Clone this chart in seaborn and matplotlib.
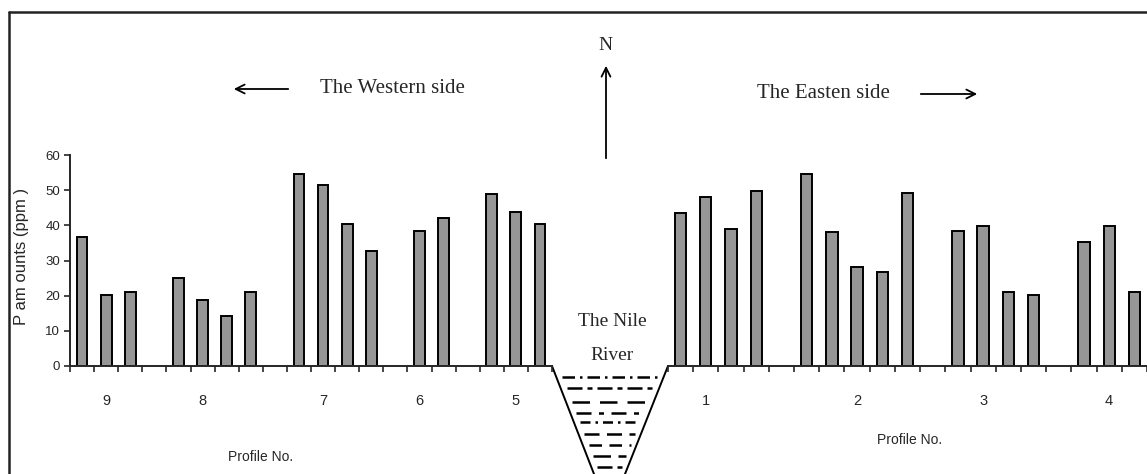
import matplotlib
matplotlib.use("Agg")
import matplotlib.pyplot as plt
import seaborn as sns
import pandas as pd

# P amounts (ppm) per sample, grouped by profile
# Western side (left panel, shown from profile 9 to 5)
profile_9 = [36.7, 20.3, 21.1]
profile_8 = [24.9, 18.8, 14.1, 21.1]
profile_7 = [54.5, 51.5, 40.5, 32.8]
profile_6 = [38.3, 42.2]
profile_5 = [49.0, 43.7, 40.5]
# Eastern side (right panel, shown from profile 1 to 4)
profile_1 = [43.4, 48.1, 38.9, 49.8]
profile_2 = [54.5, 38.2, 28.1, 26.6, 49.2]
profile_3 = [38.3, 39.8, 21.1, 20.3]
profile_4 = [35.2, 39.8, 21.1]

west_names = ["9", "8", "7", "6", "5"]
west_groups = [profile_9, profile_8, profile_7, profile_6, profile_5]
east_names = ["1", "2", "3", "4"]
east_groups = [profile_1, profile_2, profile_3, profile_4]

y_ticks = [0, 10, 20, 30, 40, 50, 60]


def build_side(names, groups):
    """Long table of samples plus a category order with one empty slot between profiles."""
    rows, order, label_cats = [], [], []
    for k, (name, vals) in enumerate(zip(names, groups)):
        cats = [f"{name}-{i + 1}" for i in range(len(vals))]
        rows += [{"sample": c, "value": v} for c, v in zip(cats, vals)]
        order += cats
        label_cats.append(cats[(len(cats) - 1) // 2])
        if k < len(names) - 1:
            order.append(f"gap-{name}")
    return pd.DataFrame(rows), order, label_cats


sns.set_style("ticks")
plt.rcParams["font.family"] = ["Liberation Sans", "DejaVu Sans"]
serif = ["Liberation Serif", "DejaVu Serif"]

fig = plt.figure(figsize=(11.47, 4.74), dpi=100)

# overlay in pixel coordinates for the frame, arrows, labels and the river sketch
ov = fig.add_axes([0, 0, 1, 1])
ov.set_xlim(0, 1147)
ov.set_ylim(474, 0)
ov.axis("off")

W, H = 1147, 474
ax_w = fig.add_axes([70 / W, (H - 366) / H, 482 / W, 211 / H])
ax_e = fig.add_axes([668 / W, (H - 366) / H, 479 / W, 211 / H])

for ax, names, groups in [(ax_w, west_names, west_groups), (ax_e, east_names, east_groups)]:
    df, order, label_cats = build_side(names, groups)
    sns.barplot(data=df, x="sample", y="value", order=order, color="#969696",
                saturation=1, edgecolor="black", linewidth=1.4, width=0.45,
                errorbar=None, ax=ax)
    ax.set_ylim(0, 60)
    ax.set_xlim(-0.5, len(order) - 0.5)
    ax.set_xticks([order.index(c) for c in label_cats])
    ax.set_xticklabels(names, fontsize=10.5)
    ax.set_xticks([i - 0.5 for i in range(len(order) + 1)], minor=True)
    ax.tick_params(axis="x", which="major", length=0, pad=20)
    ax.tick_params(axis="x", which="minor", length=4, width=1.2, direction="out")
    ax.set_xlabel("")
    ax.set_ylabel("")
    ax.patch.set_alpha(0)
    for s in ["top", "right"]:
        ax.spines[s].set_visible(False)
    ax.spines["bottom"].set_linewidth(1.4)

ax_w.set_yticks(y_ticks)
ax_w.tick_params(axis="y", length=4, width=1.2, labelsize=9.5, pad=3)
ax_w.spines["left"].set_linewidth(1.4)
ax_e.spines["left"].set_visible(False)
ax_e.set_yticks([])

# outer frame
ov.plot([9, W], [12, 12], color="#222222", lw=1.8)
ov.plot([9, 9], [12, H], color="#222222", lw=1.8)

# side labels and arrows
ov.text(392, 88, "The Western side", family=serif, fontsize=15, ha="center", va="center")
ov.annotate("", xy=(231, 89), xytext=(291, 89),
            arrowprops=dict(arrowstyle="->", lw=1.3, color="black", mutation_scale=16))
ov.text(823, 93, "The Easten side", family=serif, fontsize=15, ha="center", va="center")
ov.annotate("", xy=(980, 94), xytext=(918, 94),
            arrowprops=dict(arrowstyle="->", lw=1.3, color="black", mutation_scale=16))
ov.text(605, 45, "N", family=serif, fontsize=14, ha="center", va="center")
ov.annotate("", xy=(606, 63), xytext=(606, 161),
            arrowprops=dict(arrowstyle="->", lw=1.3, color="black", mutation_scale=16))

# the Nile river sketch
ov.text(612, 321, "The Nile", family=serif, fontsize=14, ha="center", va="center")
ov.text(612, 355, "River", family=serif, fontsize=14, ha="center", va="center")
ov.plot([552, 594], [366, H], color="black", lw=1.4)
ov.plot([668, 625], [366, H], color="black", lw=1.4)
water_rows = [377, 388, 402, 413, 422, 434, 445, 456, 467]
water_styles = [(0, (5, 2, 1, 2)), (0, (6, 2, 2, 2)), (0, (7, 4)), (0, (6, 3, 2, 3)),
                (0, (4, 2, 1, 2)), (0, (6, 3)), (0, (5, 3)), (0, (7, 3)), (0, (6, 2))]
for y, ls in zip(water_rows, water_styles):
    t = (y - 366) / (H - 366)
    x0 = 552 + t * 42 + 6
    x1 = 668 - t * 43 - 6
    ov.plot([x0, x1], [y, y], color="black", lw=1.8, linestyle=ls)

# axis titles
ov.text(22, 256, "P am ounts (ppm )", rotation=90, fontsize=12, ha="center", va="center")
ov.text(261, 457, "Profile No.", fontsize=10, ha="center", va="center")
ov.text(910, 440, "Profile No.", fontsize=10, ha="center", va="center")

fig.savefig("out.png", dpi=100, facecolor="white")
